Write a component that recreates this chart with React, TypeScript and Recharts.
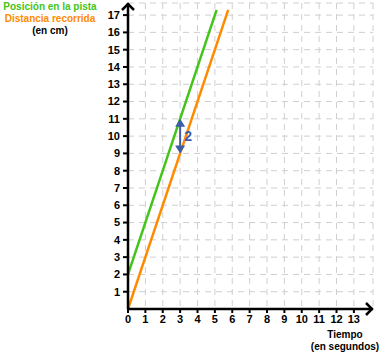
import React from "react";
import {
  LineChart,
  Line,
  XAxis,
  YAxis,
  CartesianGrid,
  ReferenceLine,
  ReferenceDot,
} from "recharts";

// Time ticks (seconds) and position ticks (cm)
const xTicks = [0, 1, 2, 3, 4, 5, 6, 7, 8, 9, 10, 11, 12, 13];
const yTicks = [1, 2, 3, 4, 5, 6, 7, 8, 9, 10, 11, 12, 13, 14, 15, 16, 17];

// Position on the track: starts at 2 cm, 3 cm per second
const positionLine = [
  { x: 0, y: 2 },
  { x: 5.1, y: 17.3 },
];
// Distance covered: starts at 0 cm, 3 cm per second
const distanceLine = [
  { x: 0, y: 0 },
  { x: 5.7667, y: 17.3 },
];

// Gap between both lines at t = 3 s
const gapX = 3;
const gapLow = 9;
const gapHigh = 11;
const gapLabel = "2";

const X_MAX = 14.1;
const Y_MAX = 17.7;

const FONT = "'Liberation Sans', Arial, sans-serif";
const GREEN = "#44c41a";
const ORANGE = "#ff8a00";
const BLUE = "#3d5da6";

const tickStyle = { fontFamily: FONT, fontSize: 11, fontWeight: 700, fill: "#000" };

const UpChevron = (props: any) => {
  const { cx, cy } = props;
  return (
    <path
      d={`M ${cx - 6} ${cy + 7} L ${cx} ${cy + 1} L ${cx + 6} ${cy + 7}`}
      fill="none"
      stroke="#000"
      strokeWidth={2.5}
    />
  );
};

const RightChevron = (props: any) => {
  const { cx, cy } = props;
  return (
    <path
      d={`M ${cx - 7} ${cy - 6} L ${cx - 1} ${cy} L ${cx - 7} ${cy + 6}`}
      fill="none"
      stroke="#000"
      strokeWidth={2.5}
    />
  );
};

const UpHead = (props: any) => {
  const { cx, cy } = props;
  return <path d={`M ${cx} ${cy} L ${cx - 5} ${cy + 8} L ${cx + 5} ${cy + 8} Z`} fill={BLUE} />;
};

const DownHead = (props: any) => {
  const { cx, cy } = props;
  return <path d={`M ${cx} ${cy} L ${cx - 5} ${cy - 8} L ${cx + 5} ${cy - 8} Z`} fill={BLUE} />;
};

const GapText = (props: any) => {
  const { cx, cy } = props;
  return (
    <text
      x={cx + 4}
      y={cy + 5}
      fontFamily={FONT}
      fontSize={14}
      fontWeight={700}
      fill={BLUE}
    >
      {gapLabel}
    </text>
  );
};

export default function App() {
  return (
    <div style={{ position: "absolute", left: 0, top: 0, width: 391, height: 359 }}>
      <LineChart
        width={391}
        height={359}
        margin={{ top: 3, right: 18, left: 0, bottom: 0 }}
      >
        <CartesianGrid stroke="#cfcfcf" strokeDasharray="6 5" strokeWidth={1} />
        <XAxis
          type="number"
          dataKey="x"
          domain={[0, X_MAX]}
          ticks={xTicks}
          allowDataOverflow
          height={50}
          axisLine={{ stroke: "#000", strokeWidth: 2.5 }}
          tickLine={{ stroke: "#000", strokeWidth: 2 }}
          tickSize={4}
          tickMargin={2}
          tick={tickStyle}
          interval={0}
        />
        <YAxis
          type="number"
          dataKey="y"
          domain={[0, Y_MAX]}
          ticks={yTicks}
          allowDataOverflow
          width={128}
          axisLine={{ stroke: "#000", strokeWidth: 2.5 }}
          tickLine={{ stroke: "#000", strokeWidth: 2 }}
          tickSize={5}
          tickMargin={3}
          tick={tickStyle}
          interval={0}
        />
        <Line
          data={positionLine}
          dataKey="y"
          stroke={GREEN}
          strokeWidth={2.5}
          dot={false}
          isAnimationActive={false}
        />
        <Line
          data={distanceLine}
          dataKey="y"
          stroke={ORANGE}
          strokeWidth={2.5}
          dot={false}
          isAnimationActive={false}
        />
        <ReferenceLine
          segment={[
            { x: gapX, y: gapLow + 0.3 },
            { x: gapX, y: gapHigh - 0.3 },
          ]}
          stroke={BLUE}
          strokeWidth={2}
        />
        <ReferenceDot x={gapX} y={gapHigh} shape={UpHead} ifOverflow="visible" />
        <ReferenceDot x={gapX} y={gapLow} shape={DownHead} ifOverflow="visible" />
        <ReferenceDot x={gapX} y={(gapLow + gapHigh) / 2} shape={GapText} ifOverflow="visible" />
        <ReferenceDot x={0} y={Y_MAX} shape={UpChevron} ifOverflow="visible" />
        <ReferenceDot x={X_MAX} y={0} shape={RightChevron} ifOverflow="visible" />
      </LineChart>
      <div
        style={{
          position: "absolute",
          left: 0,
          top: 1,
          width: 100,
          textAlign: "center",
          fontFamily: FONT,
          fontSize: 10,
          fontWeight: 700,
          lineHeight: "12px",
          whiteSpace: "nowrap",
        }}
      >
        <div style={{ color: GREEN }}>Posición en la pista</div>
        <div style={{ color: ORANGE }}>Distancia recorrida</div>
        <div style={{ color: "#000" }}>(en cm)</div>
      </div>
      <div
        style={{
          position: "absolute",
          left: 300,
          top: 329,
          width: 90,
          textAlign: "center",
          fontFamily: FONT,
          fontSize: 10,
          fontWeight: 700,
          lineHeight: "12px",
          color: "#000",
          whiteSpace: "nowrap",
        }}
      >
        <div>Tiempo</div>
        <div>(en segundos)</div>
      </div>
    </div>
  );
}
